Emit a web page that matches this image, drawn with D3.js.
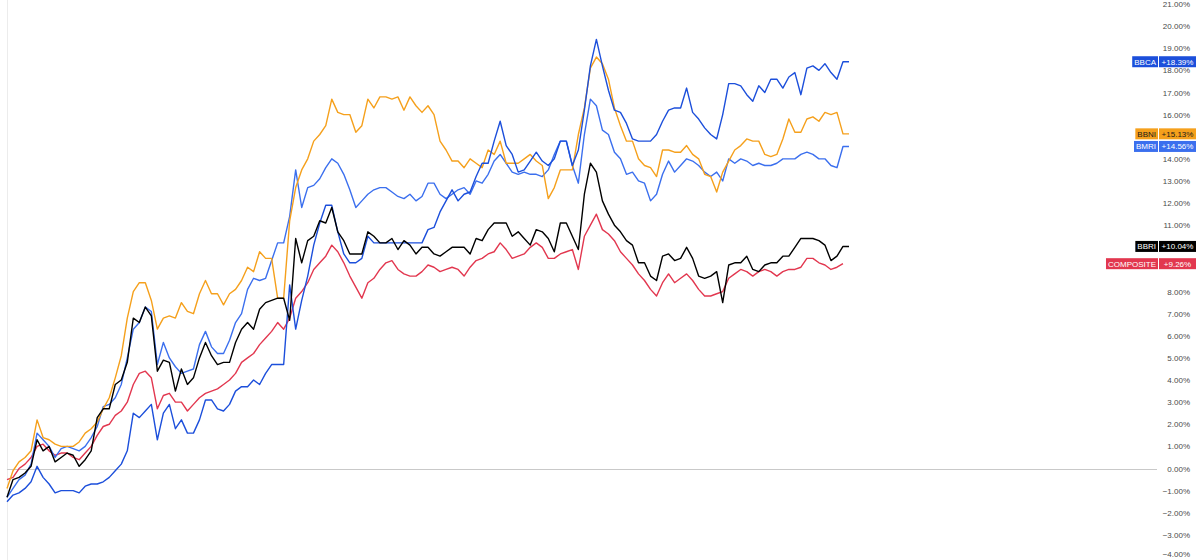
<!DOCTYPE html>
<html>
<head>
<meta charset="utf-8">
<script src="https://cdn.jsdelivr.net/npm/d3@7/dist/d3.min.js"></script>
<style>
  html, body { margin: 0; padding: 0; background: #ffffff; }
  svg { display: block; font-family: "Liberation Sans", Arial, sans-serif; }
</style>
</head>
<body>
<script>
// ---- data (percent change) ----
const yTicks = [-4,-3,-2,-1,0,1,2,3,4,5,6,7,8,9,10,11,12,13,14,15,16,17,18,19,20,21];

const bbni = [-0.9,-0.1,0.3,0.5,0.8,2.2,1.4,1.3,1.1,1.0, 1.0,1.0,1.2,1.6,1.8,2.1,2.7,3.2,4.1,5.1,
  6.8,8.0,8.4,8.4,7.6,6.3,6.8,6.9,6.8,7.5, 7.1,7.0,7.9,8.5,7.9,7.9,7.4,7.9,8.1,8.5,
  9.1,8.9,9.8,9.5,9.5,7.7,7.7,11.2,12.7,13.5, 14.0,14.8,15.1,15.5,16.7,16.1,16.0,16.0,15.2,15.5,
  16.7,16.3,16.8,16.8,16.7,16.8,16.2,16.8,16.4,16.1, 16.4,16.0,14.8,14.4,13.9,13.9,13.6,14.0,13.8,13.6,
  14.4,14.2,14.8,13.8,13.8,13.8,14.0,14.2,13.9,13.7, 12.2,12.7,13.5,13.5,13.5,15.1,16.3,18.1,18.6,18.3,
  17.6,16.3,15.5,14.8,14.8,14.0,13.7,13.6,13.2,14.4, 14.4,14.3,14.3,14.6,14.2,14.0,13.3,13.2,12.5,13.4,
  13.9,14.4,14.6,14.9,14.8,14.8,14.2,14.1,14.2,14.9, 15.8,15.2,15.2,15.8,15.9,15.7,16.1,16.0,16.1,15.13,
  15.13];

const bbri = [-1.3,-0.5,-0.4,-0.2,0.1,1.3,0.8,1.0,0.3,0.5, 0.7,0.6,0.1,0.4,0.8,2.3,2.7,2.7,3.8,4.0,
  4.8,6.8,6.6,7.3,6.9,4.4,4.9,4.8,3.5,4.5, 3.8,4.1,5.0,5.7,5.1,4.7,4.8,4.8,5.7,6.3,
  6.6,6.3,7.2,7.5,7.6,7.7,7.7,6.7,10.4,9.3, 10.3,10.5,11.2,11.1,11.8,10.7,10.3,9.7,9.7,9.7,
  10.7,10.5,10.2,10.2,10.4,9.9,10.3,10.1,9.7,10.0, 10.0,9.7,9.6,9.8,10.0,10.0,10.0,9.7,10.4,10.3,
  10.8,11.1,11.1,11.1,10.5,10.7,10.4,10.1,10.8,10.7, 10.4,9.8,11.1,11.1,10.5,9.9,12.4,13.8,13.4,12.1,
  11.5,11.0,10.7,10.3,10.1,9.3,9.3,8.7,8.5,9.6, 9.7,9.4,9.5,10.0,9.5,8.7,8.6,8.7,8.9,7.5,
  9.2,9.3,9.3,9.6,9.0,8.9,9.2,9.3,9.3,9.6, 9.6,10.0,10.4,10.4,10.4,10.3,10.1,9.4,9.6,10.04,
  10.04];

const composite = [-0.5,-0.4,0.0,0.2,0.5,1.0,1.1,0.8,0.6,0.7, 0.7,0.5,0.4,0.7,1.0,1.5,1.9,2.0,2.4,2.6,
  3.0,3.8,4.3,4.4,4.1,2.7,3.3,3.4,3.0,3.0, 2.6,2.9,3.2,3.4,3.5,3.6,3.8,4.0,4.3,4.8,
  5.0,5.2,5.6,5.9,6.2,6.6,6.3,6.8,7.7,8.0, 8.4,9.0,9.3,9.6,10.1,9.8,9.3,8.7,8.2,7.7,
  8.4,8.6,9.0,9.3,9.4,9.0,8.8,8.7,8.7,8.9, 9.2,9.1,8.9,9.0,9.1,9.0,8.7,9.1,9.4,9.5,
  9.7,9.8,10.2,9.9,9.5,9.6,9.7,10.0,10.2,10.0, 9.5,9.5,9.7,9.8,9.9,9.0,10.5,11.0,11.5,10.8,
  10.6,10.3,9.8,9.5,9.2,8.8,8.5,8.1,7.8,8.4, 8.8,8.4,8.6,8.8,8.5,8.1,7.8,7.8,7.9,8.0,
  8.6,8.8,9.0,8.9,8.7,8.9,9.0,8.9,8.7,8.9, 9.0,9.0,9.1,9.5,9.5,9.3,9.2,9.0,9.1,9.26];

const bbca = [-1.5,-1.2,-1.1,-0.9,-0.6,0.1,-0.4,-0.7,-1.1,-1.0, -1.0,-1.0,-1.1,-0.8,-0.7,-0.7,-0.6,-0.4,-0.1,0.2,
  0.8,2.5,2.3,2.6,2.9,1.3,2.5,2.9,1.8,2.2, 1.6,1.6,2.2,3.1,3.1,2.7,2.6,2.9,3.5,3.7,
  3.7,4.0,3.8,4.3,4.7,4.7,4.7,8.3,6.3,7.6, 8.7,10.1,11.1,11.9,11.9,10.7,9.7,9.3,9.3,9.5,
  10.5,10.2,10.2,10.2,10.2,10.2,10.2,10.2,10.2,10.2, 10.8,10.9,11.6,12.1,12.6,12.1,12.4,12.5,13.2,13.8,
  13.8,14.8,15.7,14.6,14.2,13.4,13.5,13.9,14.3,13.9, 13.7,14.0,14.8,14.8,13.7,14.4,16.2,18.2,19.4,18.2,
  17.1,16.2,16.1,15.6,14.9,14.8,14.8,14.8,15.1,15.7, 16.2,16.3,16.3,17.2,16.1,15.8,15.4,15.1,14.9,16.0,
  17.4,17.4,17.3,16.9,16.6,17.3,17.0,17.6,17.6,17.2, 17.7,17.9,16.9,18.1,18.2,18.0,18.3,17.9,17.6,18.39,
  18.39];

const bmri = [-1.3,-0.9,-0.5,-0.3,0.2,1.6,1.3,1.0,0.5,0.9, 1.0,0.9,0.8,1.0,1.4,1.9,2.8,2.9,3.2,3.8,
  5.0,6.3,6.6,7.3,7.1,4.7,5.7,5.0,4.6,4.3, 4.4,4.5,5.6,6.2,5.5,5.2,5.2,5.8,6.6,7.0,
  8.1,8.6,8.5,8.6,9.4,10.2,10.2,11.4,13.5,11.8, 12.7,12.8,13.1,13.6,14.0,13.8,13.3,12.6,11.8,12.1,
  12.4,12.6,12.7,12.7,12.5,12.3,12.2,12.4,12.1,12.3, 12.9,12.9,12.4,12.2,12.4,12.6,12.7,12.4,13.0,12.9,
  13.3,13.9,14.2,13.8,13.4,13.3,13.4,13.3,13.3,13.2, 13.5,14.2,14.8,14.8,13.7,12.9,15.1,16.7,16.4,15.3,
  15.1,14.3,14.0,13.3,13.4,13.0,12.9,12.1,12.4,13.3, 13.9,13.4,13.7,14.0,13.9,13.7,13.4,13.2,13.4,13.0,
  14.0,13.8,14.0,13.9,13.7,13.8,13.7,13.7,13.8,14.0, 14.0,14.0,14.2,14.3,14.2,14.0,14.0,13.7,13.6,14.56,
  14.56];

const seriesNames  = ["COMPOSITE", "BMRI", "BBNI", "BBCA", "BBRI"];
const seriesValues = [composite, bmri, bbni, bbca, bbri];
const seriesColors = ["#e2374f", "#3b6fee", "#f5a01c", "#1c4fdb", "#000000"];
const tagTextColors = ["#ffffff", "#ffffff", "#1a1a1a", "#ffffff", "#ffffff"];

// ---- drawing ----
const W = 1200, H = 560;
const svg = d3.select("body").append("svg").attr("width", W).attr("height", H);
svg.append("rect").attr("width", W).attr("height", H).attr("fill", "#ffffff");

const x = d3.scaleLinear().domain([0, 140]).range([7, 849]);
const y = d3.scaleLinear().domain([-4, 21]).range([557, 4]);

// left border line
svg.append("line").attr("x1", 7.5).attr("x2", 7.5).attr("y1", 0).attr("y2", H)
  .attr("stroke", "#ececec").attr("stroke-width", 1);

// zero line
svg.append("line").attr("x1", 7).attr("x2", 1157)
  .attr("y1", Math.round(y(0)) + 0.5).attr("y2", Math.round(y(0)) + 0.5)
  .attr("stroke", "#c9c9c9").attr("stroke-width", 1);

// tag positions (last values), used to hide axis labels that sit behind a tag
const lastVals = seriesValues.map(v => v[v.length - 1]);
const tagYs = lastVals.map(v => y(v));
const visibleTicks = yTicks.filter(t => tagYs.every(ty => Math.abs(y(t) - ty) > 7));

// right axis
const fmt = d => (d < 0 ? "\u2212" : "") + Math.abs(d).toFixed(2) + "%";
const axis = d3.axisRight(y).tickValues(visibleTicks).tickSize(0).tickFormat(fmt);
const ag = svg.append("g").attr("transform", "translate(1190,0)").call(axis);
ag.select(".domain").remove();
ag.selectAll("text")
  .attr("x", 0).attr("text-anchor", "end")
  .attr("font-size", 8).attr("fill", "#4a4a4a")
  .attr("font-family", "'Liberation Sans', Arial, sans-serif");
ag.selectAll(".tick").filter(d => d === -4).select("text").attr("dy", "-0.05em");

// lines
const line = d3.line().x((d, i) => x(i)).y(d => y(d));
seriesValues.forEach((vals, k) => {
  svg.append("path").datum(vals)
    .attr("fill", "none")
    .attr("stroke", seriesColors[k])
    .attr("stroke-width", 1.4)
    .attr("stroke-linejoin", "round")
    .attr("d", line);
});

// end tags
const tagOrder = [4, 0, 1, 2, 3];
tagOrder.forEach(k => {
  const v = lastVals[k];
  const cy = tagYs[k];
  const g = svg.append("g");
  const nameText = g.append("text").text(seriesNames[k])
    .attr("font-size", 8).attr("fill", tagTextColors[k])
    .attr("text-anchor", "middle").attr("dominant-baseline", "central");
  const tw = nameText.node().getComputedTextLength();
  const nw = tw + 4;
  g.insert("rect", "text").attr("x", 1158 - nw).attr("y", cy - 5.5)
    .attr("width", nw).attr("height", 11).attr("fill", seriesColors[k]);
  nameText.attr("x", 1158 - nw / 2).attr("y", cy + 0.5);
  g.append("rect").attr("x", 1159).attr("y", cy - 5.5)
    .attr("width", 37).attr("height", 11).attr("fill", seriesColors[k]);
  g.append("text").text((v >= 0 ? "+" : "\u2212") + Math.abs(v).toFixed(2) + "%")
    .attr("x", 1177.5).attr("y", cy + 0.5)
    .attr("font-size", 8).attr("fill", tagTextColors[k])
    .attr("text-anchor", "middle").attr("dominant-baseline", "central");
});
</script>
</body>
</html>
